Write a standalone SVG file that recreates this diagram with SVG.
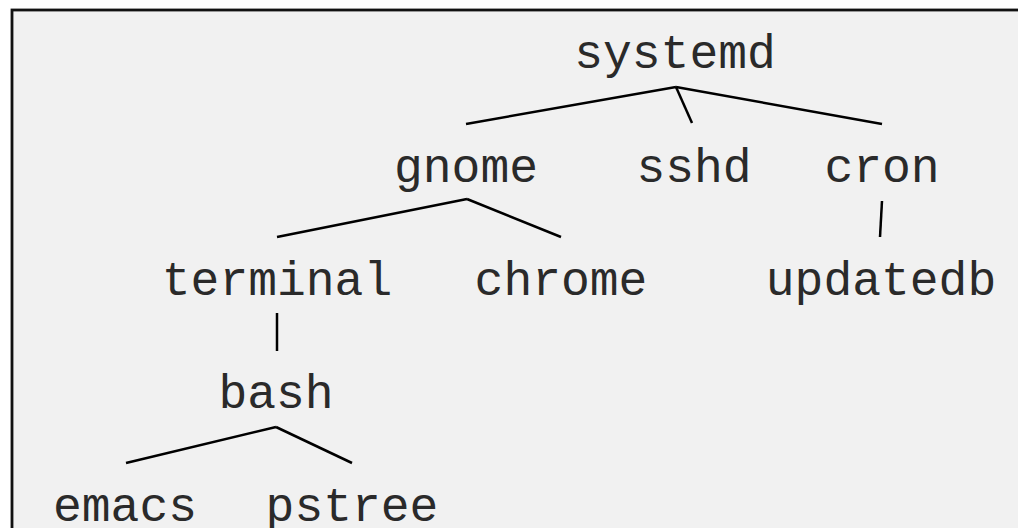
<svg xmlns="http://www.w3.org/2000/svg" width="1018" height="528" viewBox="0 0 1018 528">
<style>
.n{font-family:"Courier New","Nimbus Mono PS","Nimbus Mono L","FreeMono","Liberation Mono",monospace;font-size:48px;fill:#2a2a2a;text-anchor:middle}
.e{stroke:#000;stroke-width:2.5;fill:none;stroke-linecap:butt}
</style>
<rect x="0" y="0" width="1018" height="528" fill="#ffffff"/>
<rect x="12" y="10" width="1020" height="530" fill="#f1f1f1" stroke="#111" stroke-width="2.8"/>
<g id="connectors">
<line class="e" x1="676" y1="87" x2="466" y2="124"/>
<line class="e" x1="676" y1="87" x2="692" y2="123"/>
<line class="e" x1="676" y1="87" x2="882" y2="124"/>
<line class="e" x1="467" y1="199" x2="277" y2="237"/>
<line class="e" x1="467" y1="199" x2="561" y2="237"/>
<line class="e" x1="882" y1="201" x2="880" y2="237"/>
<line class="e" x1="277" y1="313" x2="277" y2="351"/>
<line class="e" x1="276" y1="427" x2="126" y2="463"/>
<line class="e" x1="276" y1="427" x2="352" y2="463"/>
</g>
<g id="systemd"><text class="n" x="675" y="68">systemd</text></g>
<g id="gnome"><text class="n" x="466" y="182">gnome</text></g>
<g id="sshd"><text class="n" x="694" y="182">sshd</text></g>
<g id="cron"><text class="n" x="882" y="182">cron</text></g>
<g id="terminal"><text class="n" x="277" y="295">terminal</text></g>
<g id="chrome"><text class="n" x="561" y="295">chrome</text></g>
<g id="updatedb"><text class="n" x="881" y="295">updatedb</text></g>
<g id="bash"><text class="n" x="276" y="408">bash</text></g>
<g id="emacs"><text class="n" x="125" y="521">emacs</text></g>
<g id="pstree"><text class="n" x="352" y="521">pstree</text></g>
</svg>
